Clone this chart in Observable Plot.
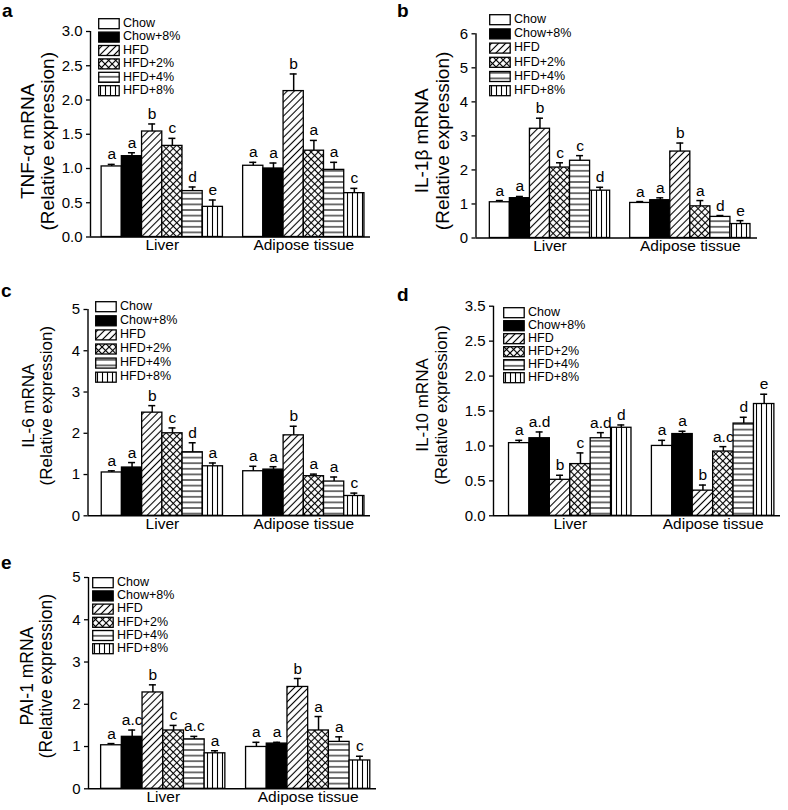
<!DOCTYPE html>
<html>
<head>
<meta charset="utf-8">
<script src="https://cdn.jsdelivr.net/npm/d3@7"></script>
<script src="https://cdn.jsdelivr.net/npm/@observablehq/plot@0.6"></script>
<style>
  body { margin: 0; background: #fff; font-family: "Liberation Sans", Arial, sans-serif; }
  #root { position: relative; width: 788px; height: 810px; overflow: hidden; background: #fff; }
  .panel { position: absolute; }
  .plab { position: absolute; font-weight: bold; font-size: 19px; line-height: 1; color: #000; }
  svg text { font-family: "Liberation Sans", Arial, sans-serif; }
</style>
</head>
<body>
<svg width="0" height="0" style="position:absolute">
  <defs>
    <pattern id="pDiag" patternUnits="userSpaceOnUse" width="5" height="5" patternTransform="rotate(45)">
      <rect width="5" height="5" fill="white"/>
      <line x1="2.5" y1="-1" x2="2.5" y2="6" stroke="black" stroke-width="1.1"/>
    </pattern>
    <pattern id="pCross" patternUnits="userSpaceOnUse" width="5" height="5" patternTransform="rotate(45)">
      <rect width="5" height="5" fill="white"/>
      <line x1="2.5" y1="-1" x2="2.5" y2="6" stroke="black" stroke-width="1.1"/>
      <line x1="-1" y1="2.5" x2="6" y2="2.5" stroke="black" stroke-width="1.1"/>
    </pattern>
    <pattern id="pHoriz" patternUnits="userSpaceOnUse" width="6" height="5.6">
      <rect width="6" height="5.6" fill="white"/>
      <line x1="-1" y1="2.8" x2="7" y2="2.8" stroke="black" stroke-width="1.1"/>
    </pattern>
    <pattern id="pVert" patternUnits="userSpaceOnUse" width="5" height="6">
      <rect width="5" height="6" fill="white"/>
      <line x1="2.5" y1="-1" x2="2.5" y2="7" stroke="black" stroke-width="1.1"/>
    </pattern>
  </defs>
</svg>
<div id="root"></div>
<script>
// ---------- categories ----------
const groups = ["Liver", "Adipose tissue"];
const treatments = ["Chow", "Chow+8%", "HFD", "HFD+2%", "HFD+4%", "HFD+8%"];

// ---------- panel a: TNF-α ----------
const tnfLiver      = [1.03, 1.18, 1.54, 1.33, 0.67, 0.44];
const tnfLiverErr   = [0.03, 0.05, 0.11, 0.11, 0.06, 0.10];
const tnfLiverSig   = ["a", "a", "b", "c", "d", "e"];
const tnfAdipose    = [1.04, 1.00, 2.13, 1.26, 0.98, 0.64];
const tnfAdiposeErr = [0.05, 0.08, 0.25, 0.15, 0.11, 0.07];
const tnfAdiposeSig = ["a", "a", "b", "a", "a", "c"];
const tnfTicks      = [0, 0.5, 1, 1.5, 2, 2.5, 3];
const tnfTickLabels = ["0.0", "0.5", "1.0", "1.5", "2.0", "2.5", "3.0"];

// ---------- panel b: IL-1β ----------
const il1Liver      = [1.05, 1.17, 3.21, 2.07, 2.27, 1.39];
const il1LiverErr   = [0.05, 0.05, 0.31, 0.14, 0.15, 0.10];
const il1LiverSig   = ["a", "a", "b", "c", "c", "d"];
const il1Adipose    = [1.03, 1.11, 2.54, 0.93, 0.62, 0.41];
const il1AdiposeErr = [0.04, 0.07, 0.25, 0.17, 0.04, 0.10];
const il1AdiposeSig = ["a", "a", "b", "a", "d", "e"];
const il1Ticks      = [0, 1, 2, 3, 4, 5, 6];
const il1TickLabels = ["0", "1", "2", "3", "4", "5", "6"];

// ---------- panel c: IL-6 ----------
const il6Liver      = [1.05, 1.17, 2.50, 2.00, 1.54, 1.20];
const il6LiverErr   = [0.04, 0.12, 0.17, 0.13, 0.23, 0.08];
const il6LiverSig   = ["a", "a", "b", "c", "d", "a"];
const il6Adipose    = [1.08, 1.12, 1.95, 0.96, 0.83, 0.48];
const il6AdiposeErr = [0.12, 0.07, 0.22, 0.05, 0.11, 0.07];
const il6AdiposeSig = ["a", "a", "b", "a", "a", "c"];
const il6Ticks      = [0, 1, 2, 3, 4, 5];
const il6TickLabels = ["0", "1", "2", "3", "4", "5"];

// ---------- panel d: IL-10 ----------
const il10Liver      = [1.04, 1.11, 0.515, 0.74, 1.11, 1.26];
const il10LiverErr   = [0.04, 0.09, 0.065, 0.16, 0.08, 0.04];
const il10LiverSig   = ["a", "a.d", "b", "c", "a.d", "d"];
const il10Adipose    = [1.00, 1.17, 0.36, 0.92, 1.32, 1.60];
const il10AdiposeErr = [0.08, 0.04, 0.08, 0.07, 0.09, 0.14];
const il10AdiposeSig = ["a", "a", "b", "a.c", "d", "e"];
const il10Ticks      = [0, 0.5, 1, 1.5, 2, 2.5, 3];
const il10TickLabels = ["0.0", "0.5", "1.0", "1.5", "2.0", "2.5", "3.5"];

// ---------- panel e: PAI-1 ----------
const paiLiver      = [1.03, 1.23, 2.28, 1.38, 1.17, 0.84];
const paiLiverErr   = [0.04, 0.16, 0.18, 0.12, 0.07, 0.06];
const paiLiverSig   = ["a", "a.c", "b", "c", "a.c", "a"];
const paiAdipose    = [0.99, 1.07, 2.41, 1.38, 1.11, 0.67];
const paiAdiposeErr = [0.11, 0.03, 0.20, 0.33, 0.12, 0.10];
const paiAdiposeSig = ["a", "a", "b", "a", "a", "c"];
const paiTicks      = [0, 1, 2, 3, 4, 5];
const paiTickLabels = ["0", "1", "2", "3", "4", "5"];

// ---------- styles ----------
const fills = ["white", "black", "url(#pDiag)", "url(#pCross)", "url(#pHoriz)", "url(#pVert)"];

const panels = [
  { letter: "a", title: "TNF-α mRNA\n(Relative expression)",
    vals: [tnfLiver, tnfAdipose], errs: [tnfLiverErr, tnfAdiposeErr], sigs: [tnfLiverSig, tnfAdiposeSig],
    ticks: tnfTicks, tickLabels: tnfTickLabels,
    box: {left: 0, top: 0, width: 394, height: 270, mL: 90, mR: 24, mT: 31, mB: 33.5},
    padL: 0.55, padR: 0.3, titleSize: 19, titleDx: -53, titleDy: 7,
    legend: {x: 97.5, y: 18, pitch: 13.4}, lab: {x: 2, y: 1} },
  { letter: "b", title: "IL-1β mRNA\n(Relative expression)",
    vals: [il1Liver, il1Adipose], errs: [il1LiverErr, il1AdiposeErr], sigs: [il1LiverSig, il1AdiposeSig],
    ticks: il1Ticks, tickLabels: il1TickLabels,
    box: {left: 394, top: 0, width: 394, height: 270, mL: 81.5, mR: 31, mT: 33.3, mB: 32.5},
    padL: 0.69, padR: 0.35, titleSize: 19, titleDx: -44, titleDy: 5,
    legend: {x: 489, y: 14, pitch: 14.2}, lab: {x: 397, y: 1} },
  { letter: "c", title: "IL-6 mRNA\n(Relative expression)",
    vals: [il6Liver, il6Adipose], errs: [il6LiverErr, il6AdiposeErr], sigs: [il6LiverSig, il6AdiposeSig],
    ticks: il6Ticks, tickLabels: il6TickLabels,
    box: {left: 0, top: 270, width: 394, height: 270, mL: 87.5, mR: 24, mT: 39, mB: 24.7},
    padL: 0.68, padR: 0.3, titleSize: 17, titleDx: -51, titleDy: -7,
    legend: {x: 95, y: 301, pitch: 14.1}, lab: {x: 1, y: 281} },
  { letter: "d", title: "IL-10 mRNA\n(Relative expression)",
    vals: [il10Liver, il10Adipose], errs: [il10LiverErr, il10AdiposeErr], sigs: [il10LiverSig, il10AdiposeSig],
    ticks: il10Ticks, tickLabels: il10TickLabels,
    box: {left: 394, top: 270, width: 394, height: 270, mL: 99, mR: 8, mT: 35.7, mB: 24.7},
    padL: 0.76, padR: 0.3, titleSize: 17, titleDx: -62, titleDy: -6,
    legend: {x: 503, y: 306.5, pitch: 13}, lab: {x: 397, y: 285} },
  { letter: "e", title: "PAI-1 mRNA\n(Relative expression)",
    vals: [paiLiver, paiAdipose], errs: [paiLiverErr, paiAdiposeErr], sigs: [paiLiverSig, paiAdiposeSig],
    ticks: paiTicks, tickLabels: paiTickLabels,
    box: {left: 0, top: 540, width: 394, height: 270, mL: 88, mR: 18, mT: 37, mB: 21.7},
    padL: 0.61, padR: 0.3, titleSize: 17.5, titleDx: -52, titleDy: -7,
    legend: {x: 91.5, y: 577, pitch: 13.2}, lab: {x: 1, y: 553} }
];

const root = document.getElementById("root");
const font = "Liberation Sans, Arial, sans-serif";

for (const p of panels) {
  const nT = treatments.length;
  const rows = groups.flatMap((g, gi) => treatments.map((t, ti) => ({
    group: g, treatment: t, ti,
    pos: gi * (nT + 1) + ti,
    value: p.vals[gi][ti], err: p.errs[gi][ti], sig: p.sigs[gi][ti]
  })));
  const centers = groups.map((g, gi) => gi * (nT + 1) + nT / 2);
  const xMin = -p.padL, xMax = groups.length * (nT + 1) - 1 + p.padR;
  const yMax = p.ticks[p.ticks.length - 1];
  const b = p.box;

  const chart = Plot.plot({
    width: b.width, height: b.height,
    marginLeft: b.mL, marginRight: b.mR, marginTop: b.mT, marginBottom: b.mB,
    style: {fontFamily: font, background: "transparent", overflow: "visible"},
    x: {domain: [xMin, xMax], axis: null},
    y: {domain: [0, yMax], axis: null},
    color: {type: "identity"},
    marks: [
      Plot.rect(rows, {x1: "pos", x2: d => d.pos + 1, y1: () => 0, y2: "value",
        fill: d => fills[d.ti], stroke: "black", strokeWidth: 1.3}),
      Plot.ruleX(rows, {x: d => d.pos + 0.5, y1: "value", y2: d => d.value + d.err, stroke: "black", strokeWidth: 1.5}),
      Plot.ruleY(rows, {x1: d => d.pos + 0.5, x2: d => d.pos + 0.5, y: d => d.value + d.err,
        insetLeft: -3.5, insetRight: -3.5, stroke: "black", strokeWidth: 1.5}),
      Plot.text(rows, {x: d => d.pos + 0.5, y: d => d.value + d.err, text: "sig",
        lineAnchor: "bottom", dy: -5, fontSize: 15.5, fill: "black"}),
      Plot.ruleX([xMin], {stroke: "black", strokeWidth: 1.4}),
      Plot.ruleY([0], {stroke: "black", strokeWidth: 1.4}),
      Plot.axisY({ticks: p.ticks, tickFormat: d => p.tickLabels[p.ticks.indexOf(d)],
        tickSize: 4, tickPadding: 4, fontSize: 15, label: null, stroke: "black", strokeWidth: 1.3, fill: "black"}),
      Plot.axisX({ticks: centers, tickFormat: d => groups[centers.indexOf(d)],
        tickSize: 0, tickPadding: 2, fontSize: 15.5, label: null, fill: "black"}),
      Plot.text([p.title], {text: d => d, frameAnchor: "left", textAnchor: "middle", rotate: -90,
        dx: p.titleDx, dy: p.titleDy,
        lineAnchor: "middle", lineHeight: 1.08, fontSize: p.titleSize, fill: "black"})
    ]
  });

  const wrap = document.createElement("div");
  wrap.className = "panel";
  wrap.style.left = b.left + "px";
  wrap.style.top = b.top + "px";
  wrap.appendChild(chart);
  root.appendChild(wrap);

  // legend (pattern swatches)
  const L = p.legend;
  const lg = d3.select(root).append("svg")
    .attr("width", 110).attr("height", L.pitch * nT + 4)
    .style("position", "absolute").style("left", L.x + "px").style("top", L.y + "px")
    .style("overflow", "visible");
  treatments.forEach((t, i) => {
    lg.append("rect").attr("x", 0.7).attr("y", i * L.pitch + 0.7)
      .attr("width", 20.5).attr("height", 10)
      .attr("fill", fills[i]).attr("stroke", "black").attr("stroke-width", 1.3);
    lg.append("text").attr("x", 25).attr("y", i * L.pitch + 5.7)
      .attr("dominant-baseline", "middle").attr("font-size", 12.5)
      .attr("fill", "black").text(t);
  });

  const lab = document.createElement("div");
  lab.className = "plab";
  lab.style.left = p.lab.x + "px";
  lab.style.top = p.lab.y + "px";
  lab.textContent = p.letter;
  root.appendChild(lab);
}
</script>
</body>
</html>
